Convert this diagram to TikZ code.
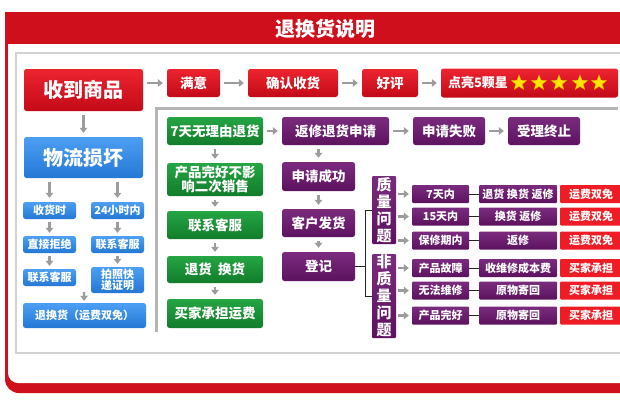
\documentclass[tikz,border=0pt]{standalone}
\usepackage{fontspec}
\setmainfont{Noto Sans CJK SC}
\usetikzlibrary{shapes.geometric,arrows.meta}
\definecolor{framered}{HTML}{CF0F1C}
\definecolor{redtop}{HTML}{EC2430}
\definecolor{redbot}{HTML}{C30A17}
\definecolor{bluetop}{HTML}{4C9FF2}
\definecolor{bluebot}{HTML}{2478D6}
\definecolor{greentop}{HTML}{25A543}
\definecolor{greenbot}{HTML}{117C2B}
\definecolor{purptop}{HTML}{7B2B7E}
\definecolor{purpbot}{HTML}{5C125F}
\definecolor{tagred}{HTML}{EE1D25}
\definecolor{arrowgray}{HTML}{9C9C9C}
\definecolor{linegray}{HTML}{B4B4B4}
\definecolor{panelgray}{HTML}{D2D2D2}
\definecolor{staryellow}{HTML}{FFE600}
\definecolor{starorange}{HTML}{F0A000}
\begin{document}
\begin{tikzpicture}[x=1pt, y=-1pt,
    box/.style={rounded corners=2.5pt, text=white, inner sep=0pt, align=center},
    sz/.style 2 args={minimum width=#1pt, minimum height=#2pt},
    redbox/.style={box, top color=redtop, bottom color=redbot},
    bluebox/.style={box, top color=bluetop, bottom color=bluebot},
    greenbox/.style={box, top color=greentop, bottom color=greenbot},
    purplebox/.style={box, top color=purptop, bottom color=purpbot},
    tagbox/.style={box, rounded corners=1pt, fill=tagred},
    bigtxt/.style={font=\bfseries\fontsize{20}{22}\selectfont},
    midtxt/.style={font=\bfseries\fontsize{13.5}{15}\selectfont},
    smalltxt/.style={font=\bfseries\fontsize{11}{13}\selectfont},
    vtxt/.style={font=\bfseries\fontsize{15}{17}\selectfont},
    starmark/.style={star, star points=5, star point ratio=2.3, minimum size=16pt, inner sep=0pt, fill=staryellow, draw=starorange, line width=0.4pt},
    garrow/.style={draw=arrowgray, line width=2.4pt, -{Triangle[length=5pt,width=7.5pt]}, shorten <=4pt, shorten >=4pt},
    brline/.style={draw=black!85, line width=1pt}
  ]
  \useasboundingbox (0,0) rectangle (620,410);

  % Frame
  \fill[framered] (5,12) -- (640,12) -- (640,393) -- (19,393) arc[start angle=90, end angle=180, radius=14] -- cycle;
  \fill[white] (8,44) -- (640,44) -- (640,383) -- (18,383) arc[start angle=90, end angle=180, radius=10] -- cycle;
  \node[text=white, font=\bfseries\fontsize{20}{22}\selectfont] (title) at (325,29) {退换货说明};
  % Inner panel
  \draw[panelgray, line width=1.5pt] (640,53) -- (16,53) -- (16,353) -- (640,353);
  \draw[linegray, line width=3pt] (618,108.5) -- (156,108.5) -- (156,332);

  % Top row
  \node[redbox, bigtxt, sz={119}{42}] (get) at (83.5,90) {收到商品};
  \node[redbox, midtxt, sz={53}{28}] (sat) at (193.5,83) {满意};
  \node[redbox, midtxt, sz={90}{28}] (conf) at (293,83) {确认收货};
  \node[redbox, midtxt, sz={56}{28}] (good) at (390,83) {好评};
  \node[redbox, font=\bfseries\fontsize{13}{15}\selectfont, minimum height=29pt, text width=163pt, inner xsep=7pt, align=left] (stars) at (529.5,83) {点亮5颗星};
  \node[starmark] (star1) at (519,83) {};
  \node[starmark] (star2) at (539,83) {};
  \node[starmark] (star3) at (559,83) {};
  \node[starmark] (star4) at (580,83) {};
  \node[starmark] (star5) at (599,83) {};
  \draw[garrow] (get.east |- sat) -- (sat);
  \draw[garrow] (sat) -- (conf);
  \draw[garrow] (conf) -- (good);
  \draw[garrow] (good) -- (stars);

  % Logistics damage
  \node[bluebox, bigtxt, sz={119}{41}] (dmg) at (83.5,157.5) {物流损坏};
  \node[bluebox, smalltxt, sz={53}{17}] (onrcv) at (49.5,210.5) {收货时};
  \node[bluebox, smalltxt, sz={53}{17}] (in24) at (117.5,210.5) {24小时内};
  \node[bluebox, smalltxt, sz={53}{17}] (reject) at (49.5,244.5) {直接拒绝};
  \node[bluebox, smalltxt, sz={53}{17}] (svcR) at (117.5,244.5) {联系客服};
  \node[bluebox, smalltxt, sz={53}{17}] (svcL) at (49.5,277.5) {联系客服};
  \node[bluebox, smalltxt, sz={53}{26}, font=\bfseries\fontsize{11}{11.5}\selectfont] (photo) at (117.5,280) {拍照快\\递证明};
  \node[bluebox, smalltxt, sz={123}{25}] (refund) at (84.5,315.5) {退换货（运费双免）};
  \coordinate (join) at (84,292);
  \draw[garrow] (get) -- (dmg);
  \draw[garrow] (dmg.south -| onrcv) -- (onrcv);
  \draw[garrow] (dmg.south -| in24) -- (in24);
  \draw[garrow, shorten <=3pt, shorten >=3pt] (onrcv) -- (reject);
  \draw[garrow, shorten <=3pt, shorten >=3pt] (reject) -- (svcL);
  \draw[garrow, shorten <=3pt, shorten >=3pt] (in24) -- (svcR);
  \draw[garrow, shorten <=3pt, shorten >=3pt] (svcR) -- (photo);
  \draw[garrow, shorten <=0pt, shorten >=2pt] (join) -- (refund);

  % Seven days
  \node[greenbox, midtxt, sz={96}{28}] (sevenday) at (215,131) {7天无理由退货};
  \node[greenbox, midtxt, sz={96}{33}, font=\bfseries\fontsize{13.5}{14.5}\selectfont] (intact) at (215,179.5) {产品完好不影\\响二次销售};
  \node[greenbox, midtxt, sz={96}{28}] (gsvc) at (215,225) {联系客服};
  \node[greenbox, midtxt, sz={96}{27}] (rtex) at (215,269.5) {退货\ \ 换货};
  \node[greenbox, midtxt, sz={96}{29}] (buyer) at (215,313.5) {买家承担运费};
  \draw[garrow] (sevenday) -- (intact);
  \draw[garrow] (intact) -- (gsvc);
  \draw[garrow] (gsvc) -- (rtex);
  \draw[garrow] (rtex) -- (buyer);

  % Repair application
  \node[purplebox, midtxt, sz={107}{28}] (apply) at (335.5,131) {返修退货申请};
  \node[purplebox, midtxt, sz={72}{28}] (fail) at (449,131) {申请失败};
  \node[purplebox, midtxt, sz={72}{28}] (stop) at (544,131) {受理终止};
  \node[purplebox, midtxt, sz={73}{29}] (ok) at (318.5,176.5) {申请成功};
  \node[purplebox, midtxt, sz={73}{28}] (ship) at (318.5,223) {客户发货};
  \node[purplebox, midtxt, sz={73}{29}] (reg) at (318.5,266.5) {登记};
  \draw[garrow] (sevenday) -- (apply);
  \draw[garrow] (apply) -- (fail);
  \draw[garrow] (fail) -- (stop);
  \draw[garrow] (apply.south -| ok) -- (ok);
  \draw[garrow] (ok) -- (ship);
  \draw[garrow] (ship) -- (reg);

  % Quality / non-quality
  \node[purplebox, vtxt, rounded corners=1pt, sz={24}{68}] (qual) at (384,210) {质\\量\\问\\题};
  \node[purplebox, vtxt, rounded corners=1pt, sz={24}{84}] (nonqual) at (384,296) {非\\质\\量\\问\\题};
  \coordinate (brk) at (365,0);
  \draw[brline] (qual.west) -- (qual.west -| brk) -- (nonqual.west -| brk) -- (nonqual.west);
  \draw[brline] (reg.east) -- (reg.east -| brk);

  % Cases
  \node[purplebox, smalltxt, rounded corners=1pt, sz={57}{18}] (r1a) at (440.5,194) {7天内};
  \node[purplebox, smalltxt, rounded corners=1pt, sz={78}{18}] (r1b) at (518,194) {退货\ 换货\ 返修};
  \node[tagbox, smalltxt, sz={62}{18}] (r1c) at (591,194) {运费双免};
  \node[purplebox, smalltxt, rounded corners=1pt, sz={57}{18}] (r2a) at (440.5,216.5) {15天内};
  \node[purplebox, smalltxt, rounded corners=1pt, sz={78}{18}] (r2b) at (518,216.5) {换货\ 返修};
  \node[tagbox, smalltxt, sz={62}{18}] (r2c) at (591,216.5) {运费双免};
  \node[purplebox, smalltxt, rounded corners=1pt, sz={57}{18}] (r3a) at (440.5,240.5) {保修期内};
  \node[purplebox, smalltxt, rounded corners=1pt, sz={78}{18}] (r3b) at (518,240.5) {返修};
  \node[tagbox, smalltxt, sz={62}{18}] (r3c) at (591,240.5) {运费双免};
  \node[purplebox, smalltxt, rounded corners=1pt, sz={57}{18}] (r4a) at (440.5,268) {产品故障};
  \node[purplebox, smalltxt, rounded corners=1pt, sz={78}{18}] (r4b) at (518,268) {收维修成本费};
  \node[tagbox, smalltxt, sz={62}{18}] (r4c) at (591,268) {买家承担};
  \node[purplebox, smalltxt, rounded corners=1pt, sz={57}{18}] (r5a) at (440.5,290.5) {无法维修};
  \node[purplebox, smalltxt, rounded corners=1pt, sz={78}{18}] (r5b) at (518,290.5) {原物寄回};
  \node[tagbox, smalltxt, sz={62}{18}] (r5c) at (591,290.5) {买家承担};
  \node[purplebox, smalltxt, rounded corners=1pt, sz={57}{18}] (r6a) at (440.5,315.5) {产品完好};
  \node[purplebox, smalltxt, rounded corners=1pt, sz={78}{18}] (r6b) at (518,315.5) {原物寄回};
  \node[tagbox, smalltxt, sz={62}{18}] (r6c) at (591,315.5) {买家承担};
  \draw[garrow, shorten <=2pt, shorten >=3pt] (qual.east |- r1a) -- (r1a);
  \draw[garrow, shorten <=2pt, shorten >=3pt] (qual.east |- r2a) -- (r2a);
  \draw[garrow, shorten <=2pt, shorten >=3pt] (qual.east |- r3a) -- (r3a);
  \draw[garrow, shorten <=2pt, shorten >=3pt] (nonqual.east |- r4a) -- (r4a);
  \draw[garrow, shorten <=2pt, shorten >=3pt] (nonqual.east |- r5a) -- (r5a);
  \draw[garrow, shorten <=2pt, shorten >=3pt] (nonqual.east |- r6a) -- (r6a);
  \draw[brline] (r1a) -- (r1b);
  \draw[brline] (r2a) -- (r2b);
  \draw[brline] (r3a) -- (r3b);
  \draw[brline] (r4a) -- (r4b);
  \draw[brline] (r5a) -- (r5b);
  \draw[brline] (r6a) -- (r6b);
\end{tikzpicture}
\end{document}
